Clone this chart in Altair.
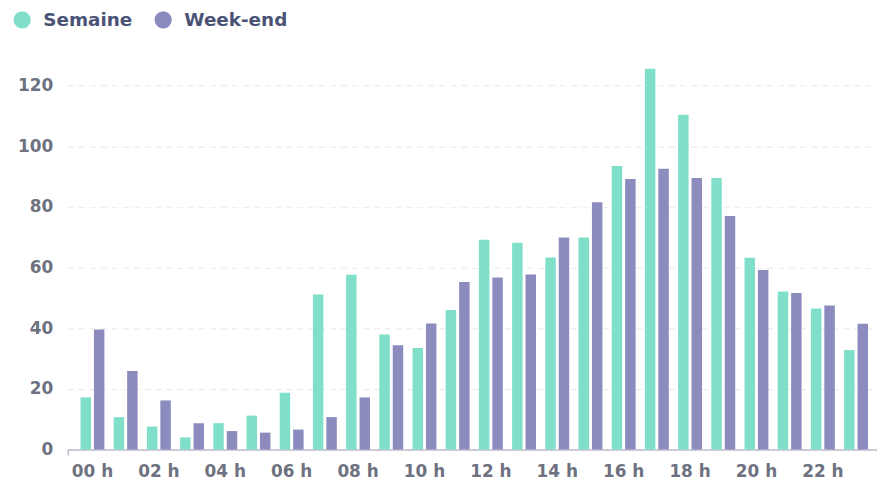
import altair as alt
import pandas as pd

hours = [f"{h:02d} h" for h in range(24)]
series = ["Semaine", "Week-end"]
semaine = [17.2, 10.7, 7.6, 4.0, 8.7, 11.2, 18.7, 51.1, 57.6, 37.9, 33.5, 46.0,
           69.2, 68.2, 63.3, 69.9, 93.5, 125.5, 110.4, 89.5, 63.2, 52.1, 46.5, 32.8]
weekend = [39.6, 25.9, 16.2, 8.7, 6.1, 5.6, 6.6, 10.7, 17.2, 34.4, 41.6, 55.2,
           56.7, 57.7, 69.9, 81.5, 89.2, 92.6, 89.5, 77.0, 59.2, 51.6, 47.5, 41.5]
colors = ["#80dfc8", "#8b8bbe"]
y_ticks = [0, 20, 40, 60, 80, 100, 120]
x_labels = hours[::2]

rows = []
for i, h in enumerate(hours):
    rows.append({"heure": h, "serie": series[0], "valeur": semaine[i]})
    rows.append({"heure": h, "serie": series[1], "valeur": weekend[i]})
df = pd.DataFrame(rows)

FONT = "DejaVu Sans"
W, H = 815, 391

bars = alt.Chart(df).mark_bar().encode(
    x=alt.X("heure:N", sort=hours, title=None,
            scale=alt.Scale(paddingInner=0.28, paddingOuter=0.33, align=0.59, round=False),
            axis=alt.Axis(values=x_labels, labelAngle=0, ticks=False,
                          domainColor="#bdbdcc", domainWidth=1.5,
                          labelFont=FONT, labelFontSize=17, labelFontWeight="bold",
                          labelColor="#6e7180", labelPadding=14, grid=False)),
    xOffset=alt.XOffset("serie:N", sort=series,
                        scale=alt.Scale(paddingInner=0.22, paddingOuter=0, round=False)),
    y=alt.Y("valeur:Q", title=None,
            scale=alt.Scale(domain=[0, 128], nice=False),
            axis=alt.Axis(values=y_ticks, ticks=False, domain=False,
                          labelFont=FONT, labelFontSize=17, labelFontWeight="bold",
                          labelColor="#6e7180", labelPadding=15,
                          grid=True, gridColor="#e8e8ee", gridDash=[6, 5])),
    color=alt.Color("serie:N", sort=series,
                    scale=alt.Scale(domain=series, range=colors),
                    legend=alt.Legend(title=None, orient="none", direction="horizontal",
                                      legendX=-55, legendY=-51,
                                      symbolType="circle", symbolSize=300,
                                      symbolStrokeWidth=0, symbolOpacity=1,
                                      labelFont=FONT, labelFontSize=18.5,
                                      labelFontWeight="bold", labelColor="#4a5375",
                                      labelOffset=12, columnPadding=21)),
)

start_tick = alt.Chart(pd.DataFrame({"t": [0]})).mark_rule(
    color="#bdbdcc", strokeWidth=1.5
).encode(x=alt.value(0.75), y=alt.value(H), y2=alt.value(H + 6))

chart = alt.layer(bars, start_tick).properties(
    width=W, height=H,
    padding={"left": 60, "top": 52, "right": 0, "bottom": 30},
    autosize=alt.AutoSizeParams(type="none"),
).configure_view(stroke=None)

chart.save("out.html", embed_options={"renderer": "svg", "actions": False})
